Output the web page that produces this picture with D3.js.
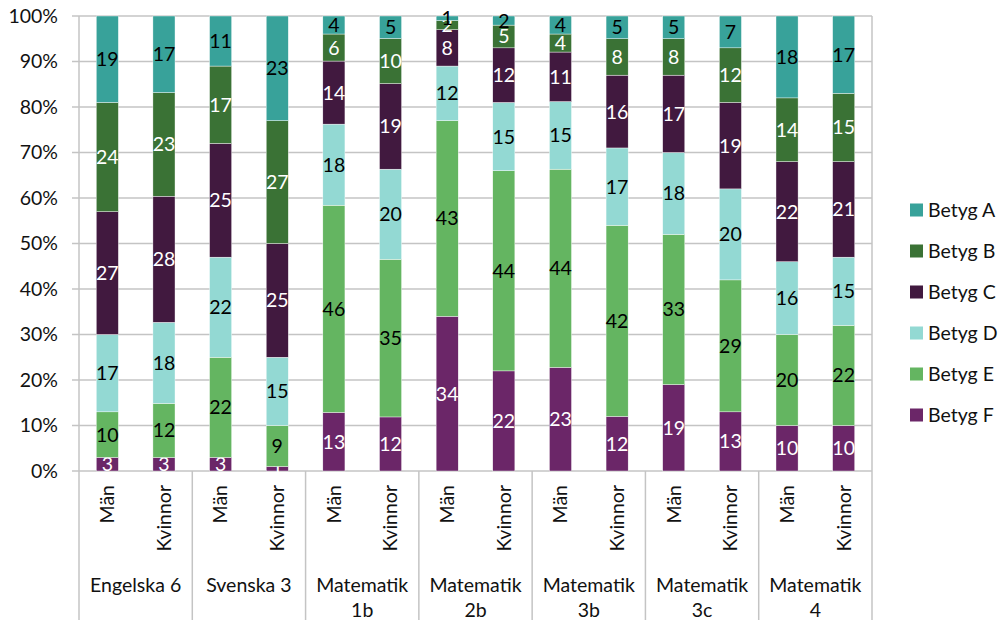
<!DOCTYPE html>
<html>
<head>
<meta charset="utf-8">
<script src="https://cdn.jsdelivr.net/npm/d3@7"></script>
<style>
  body { margin: 0; background: #fff; }
  text { font-family: Lato, "Open Sans", sans-serif; }
</style>
</head>
<body>
<script>
// courses and the two bars in each
var courses = [["Engelska 6"], ["Svenska 3"], ["Matematik", "1b"], ["Matematik", "2b"],
               ["Matematik", "3b"], ["Matematik", "3c"], ["Matematik", "4"]];
var genders = ["Män", "Kvinnor"];

// grade series, bottom to top, one value per bar (Män, Kvinnor per course)
var grades = ["Betyg F", "Betyg E", "Betyg D", "Betyg C", "Betyg B", "Betyg A"];
var betygF = [3, 3, 3, 1, 13, 12, 34, 22, 23, 12, 19, 13, 10, 10];
var betygE = [10, 12, 22, 9, 46, 35, 43, 44, 44, 42, 33, 29, 20, 22];
var betygD = [17, 18, 22, 15, 18, 20, 12, 15, 15, 17, 18, 20, 16, 15];
var betygC = [27, 28, 25, 25, 14, 19, 8, 12, 11, 16, 17, 19, 22, 21];
var betygB = [24, 23, 17, 27, 6, 10, 2, 5, 4, 8, 8, 12, 14, 15];
var betygA = [19, 17, 11, 23, 4, 5, 1, 2, 4, 5, 5, 7, 18, 17];

var yTicks = [0, 0.1, 0.2, 0.3, 0.4, 0.5, 0.6, 0.7, 0.8, 0.9, 1];

var colors = {"Betyg A": "#38a29a", "Betyg B": "#3a7235", "Betyg C": "#41193f",
              "Betyg D": "#93d9d3", "Betyg E": "#64b561", "Betyg F": "#6b2668"};
var labelColors = {"Betyg A": "#000", "Betyg B": "#fff", "Betyg C": "#fff",
                   "Betyg D": "#000", "Betyg E": "#000", "Betyg F": "#fff"};

var series = [betygF, betygE, betygD, betygC, betygB, betygA];

var margin = {top: 16, right: 127, bottom: 149, left: 79},
    width = 999 - margin.left - margin.right,
    height = 620 - margin.top - margin.bottom;

var fs = 19.5;

// one row per bar
var data = [];
courses.forEach(function(c, ci) {
  genders.forEach(function(g, gi) {
    var row = {course: ci, gender: g, key: ci + "-" + g};
    grades.forEach(function(gr, si) { row[gr] = series[si][ci * 2 + gi]; });
    data.push(row);
  });
});

var stack = d3.stack().keys(grades).offset(d3.stackOffsetExpand);
var layers = stack(data);

var x0 = d3.scaleBand().domain(d3.range(courses.length)).range([0, width]);
var x1 = d3.scaleBand().domain(genders).range([0, x0.bandwidth()]).paddingInner(0.61).paddingOuter(0.305);
var y = d3.scaleLinear().domain([0, 1]).range([height, 0]);

var svg = d3.select("body").append("svg")
  .attr("width", 999)
  .attr("height", 620)
  .append("g")
  .attr("transform", "translate(" + margin.left + "," + margin.top + ")");

var gridColor = "#c4c4c4";

// gridlines + y labels
svg.append("g")
  .selectAll("line")
  .data(yTicks)
  .enter().append("line")
  .attr("x1", -7).attr("x2", width)
  .attr("y1", function(d) { return y(d); })
  .attr("y2", function(d) { return y(d); })
  .attr("stroke", gridColor)
  .attr("stroke-width", 1.5);

svg.append("g")
  .selectAll("text")
  .data(yTicks)
  .enter().append("text")
  .attr("x", -21)
  .attr("y", function(d) { return y(d); })
  .attr("dy", "0.35em")
  .attr("text-anchor", "end")
  .attr("font-size", fs)
  .attr("fill", "#111")
  .text(d3.format(".0%"));

// category separators
var sepX = d3.range(courses.length + 1).map(function(i) { return i * x0.step(); });
svg.append("g")
  .selectAll("line")
  .data(sepX)
  .enter().append("line")
  .attr("x1", function(d) { return d; })
  .attr("x2", function(d) { return d; })
  .attr("y1", function(d, i) { return (i == 0 || i == courses.length) ? 0 : height; })
  .attr("y2", 620 - margin.top)
  .attr("stroke", gridColor)
  .attr("stroke-width", 1.5);

function barX(d) { return x0(d.data.course) + x1(d.data.gender); }

var layer = svg.selectAll(".layer")
  .data(layers)
  .enter().append("g")
  .attr("class", "layer")
  .attr("fill", function(d) { return colors[d.key]; });

layer.selectAll("rect")
  .data(function(d) { return d; })
  .enter().append("rect")
  .attr("x", barX)
  .attr("width", x1.bandwidth())
  .attr("y", function(d) { return y(d[1]); })
  .attr("height", function(d) { return y(d[0]) - y(d[1]); })
  .attr("stroke", "#fff")
  .attr("stroke-width", 0.4);

// value labels
layer.selectAll("text")
  .data(function(d) { return d.map(function(p) { p.grade = d.key; return p; }); })
  .enter().append("text")
  .attr("x", function(d) { return barX(d) + x1.bandwidth() / 2; })
  .attr("y", function(d) { return y((d[0] + d[1]) / 2); })
  .attr("dy", "0.36em")
  .attr("text-anchor", "middle")
  .attr("font-size", fs)
  .attr("fill", function(d) { return labelColors[d.grade]; })
  .text(function(d) { return d.data[d.grade]; });

// x labels: gender (rotated) and course
svg.append("g")
  .selectAll("text")
  .data(data)
  .enter().append("text")
  .attr("transform", function(d) {
    return "translate(" + (x0(d.course) + x1(d.gender) + x1.bandwidth() / 2) + "," + (height + 14) + ") rotate(-90)";
  })
  .attr("dy", "0.35em")
  .attr("text-anchor", "end")
  .attr("font-size", fs)
  .attr("fill", "#111")
  .text(function(d) { return d.gender; });

var courseLabel = svg.append("g")
  .selectAll("text")
  .data(courses)
  .enter().append("text")
  .attr("x", function(d, i) { return x0(i) + x0.bandwidth() / 2; })
  .attr("y", height + 121)
  .attr("text-anchor", "middle")
  .attr("font-size", fs)
  .attr("fill", "#111");

courseLabel.selectAll("tspan")
  .data(function(d) { return d; })
  .enter().append("tspan")
  .attr("x", function() { return d3.select(this.parentNode).attr("x"); })
  .attr("dy", function(d, i) { return i == 0 ? 0 : 25; })
  .text(function(d) { return d; });

// legend, A at top
var legend = svg.append("g")
  .attr("transform", "translate(" + (width + 38) + ",0)")
  .selectAll("g")
  .data(grades.slice().reverse())
  .enter().append("g")
  .attr("transform", function(d, i) { return "translate(0," + (194 + i * 41) + ")"; });

legend.append("rect")
  .attr("y", -6.5)
  .attr("width", 13)
  .attr("height", 13)
  .attr("fill", function(d) { return colors[d]; });

legend.append("text")
  .attr("x", 18)
  .attr("dy", "0.35em")
  .attr("font-size", fs)
  .attr("fill", "#111")
  .text(function(d) { return d; });
</script>
</body>
</html>
